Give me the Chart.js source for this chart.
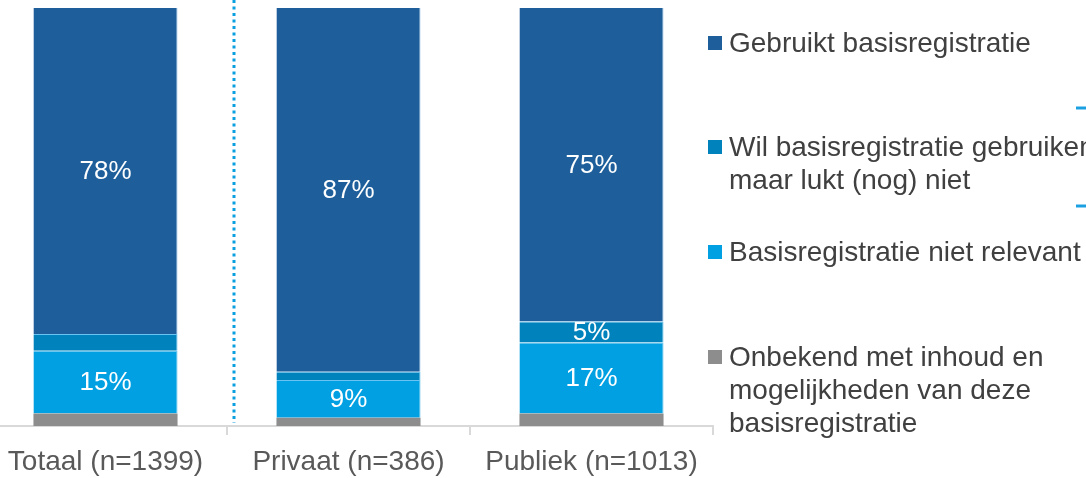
<!DOCTYPE html>
<html>
<head>
<meta charset="utf-8">
<script src="https://cdn.jsdelivr.net/npm/chart.js@4/dist/chart.umd.min.js"></script>
<style>
  html, body { margin: 0; padding: 0; background: #fff; overflow: hidden; }
  #wrap { position: absolute; left: -16px; top: 0; width: 1120px; height: 478px; }
</style>
</head>
<body>
<div id="wrap"><canvas id="barChart"></canvas></div>
<script>
// categories and series (percentages)
var categories = ["Totaal (n=1399)", "Privaat (n=386)", "Publiek (n=1013)"];
var onbekend = [3, 2, 3];
var nietRelevant = [15, 9, 17];
var luktNiet = [4, 2, 5];
var gebruikt = [78, 87, 75];

var legendLines = [
    ["Gebruikt basisregistratie"],
    ["Wil basisregistratie gebruiken,", "maar lukt (nog) niet"],
    ["Basisregistratie niet relevant"],
    ["Onbekend met inhoud en", "mogelijkheden van deze", "basisregistratie"]
];

var fontFamily = "'Liberation Sans', Arial, sans-serif";

// value labels inside the segments (only 5% and up)
var valueLabels = {
    id: 'valueLabels',
    afterDatasetsDraw: function (chart) {
        var ctx = chart.ctx;
        ctx.save();
        ctx.fillStyle = '#ffffff';
        ctx.font = '26px ' + fontFamily;
        ctx.textAlign = 'center';
        ctx.textBaseline = 'middle';
        chart.data.datasets.forEach(function (ds, i) {
            var meta = chart.getDatasetMeta(i);
            meta.data.forEach(function (bar, j) {
                var v = ds.data[j];
                if (v < 5) return;
                var p = bar.getCenterPoint();
                ctx.fillText(v + '%', p.x, p.y + 1);
            });
        });
        ctx.restore();
    }
};

// dotted divider after "Totaal", plus the right-hand legend
var extras = {
    id: 'extras',
    afterDraw: function (chart) {
        var ctx = chart.ctx;
        var xs = chart.scales.x;
        var area = chart.chartArea;
        ctx.save();

        // dotted separator
        var sx = xs.getPixelForValue(0.5) + 7;
        ctx.strokeStyle = '#0aa0e0';
        ctx.lineWidth = 3;
        ctx.setLineDash([3, 3.5]);
        ctx.beginPath();
        ctx.moveTo(sx, 0);
        ctx.lineTo(sx, area.bottom - 3);
        ctx.stroke();
        ctx.setLineDash([]);

        // small dashes cut off at the right edge
        ctx.strokeStyle = '#1ba1e2';
        ctx.lineWidth = 3;
        [108, 206].forEach(function (y) {
            ctx.beginPath();
            ctx.moveTo(1092, y);
            ctx.lineTo(1110, y);
            ctx.stroke();
        });

        // legend
        var legendTop = [43, 147, 252, 357];
        var lx = area.right - 5;
        ctx.font = '28px ' + fontFamily;
        ctx.textBaseline = 'middle';
        ctx.textAlign = 'left';
        chart.data.datasets.slice().reverse().forEach(function (ds, k) {
            var y = legendTop[k];
            ctx.fillStyle = ds.backgroundColor;
            ctx.fillRect(lx, y - 7, 14, 14);
            ctx.fillStyle = '#404040';
            legendLines[k].forEach(function (line, n) {
                ctx.fillText(line, lx + 21, y + 1 + n * 33);
            });
        });
        ctx.restore();
    }
};

var barChart = new Chart(document.getElementById('barChart').getContext('2d'), {
    type: 'bar',
    data: {
        labels: categories,
        datasets: [
            { label: 'Onbekend', data: onbekend, backgroundColor: '#8e8d8e', borderWidth: 0 },
            { label: 'Niet relevant', data: nietRelevant, backgroundColor: '#00a0e2',
              borderColor: 'rgba(90,190,240,0.9)', borderWidth: { top: 1, right: 1 } },
            { label: 'Lukt niet', data: luktNiet, backgroundColor: '#0083bc',
              borderColor: 'rgba(90,190,240,0.9)', borderWidth: { top: 1, right: 1 } },
            { label: 'Gebruikt', data: gebruikt, backgroundColor: '#1e5f9b',
              borderColor: 'rgba(90,160,220,0.6)', borderWidth: { right: 1 } }
        ]
    },
    options: {
        responsive: true,
        maintainAspectRatio: false,
        animation: false,
        barPercentage: 0.593,
        categoryPercentage: 1,
        layout: { padding: { left: 0, right: 391, top: 8, bottom: 0 } },
        plugins: {
            legend: { display: false },
            tooltip: { enabled: false }
        },
        scales: {
            x: {
                stacked: true,
                offset: true,
                grid: { display: true, drawOnChartArea: false, offset: true, color: '#d9d9d9', lineWidth: 2, tickLength: 9 },
                border: { display: true, color: '#d9d9d9', width: 2 },
                ticks: { color: '#595959', font: { family: fontFamily, size: 28 }, padding: 10 },
                afterFit: function (scale) { scale.height = 52; }
            },
            y: {
                stacked: true,
                display: false,
                min: 0,
                max: 100
            }
        }
    },
    plugins: [valueLabels, extras]
});
</script>
</body>
</html>
